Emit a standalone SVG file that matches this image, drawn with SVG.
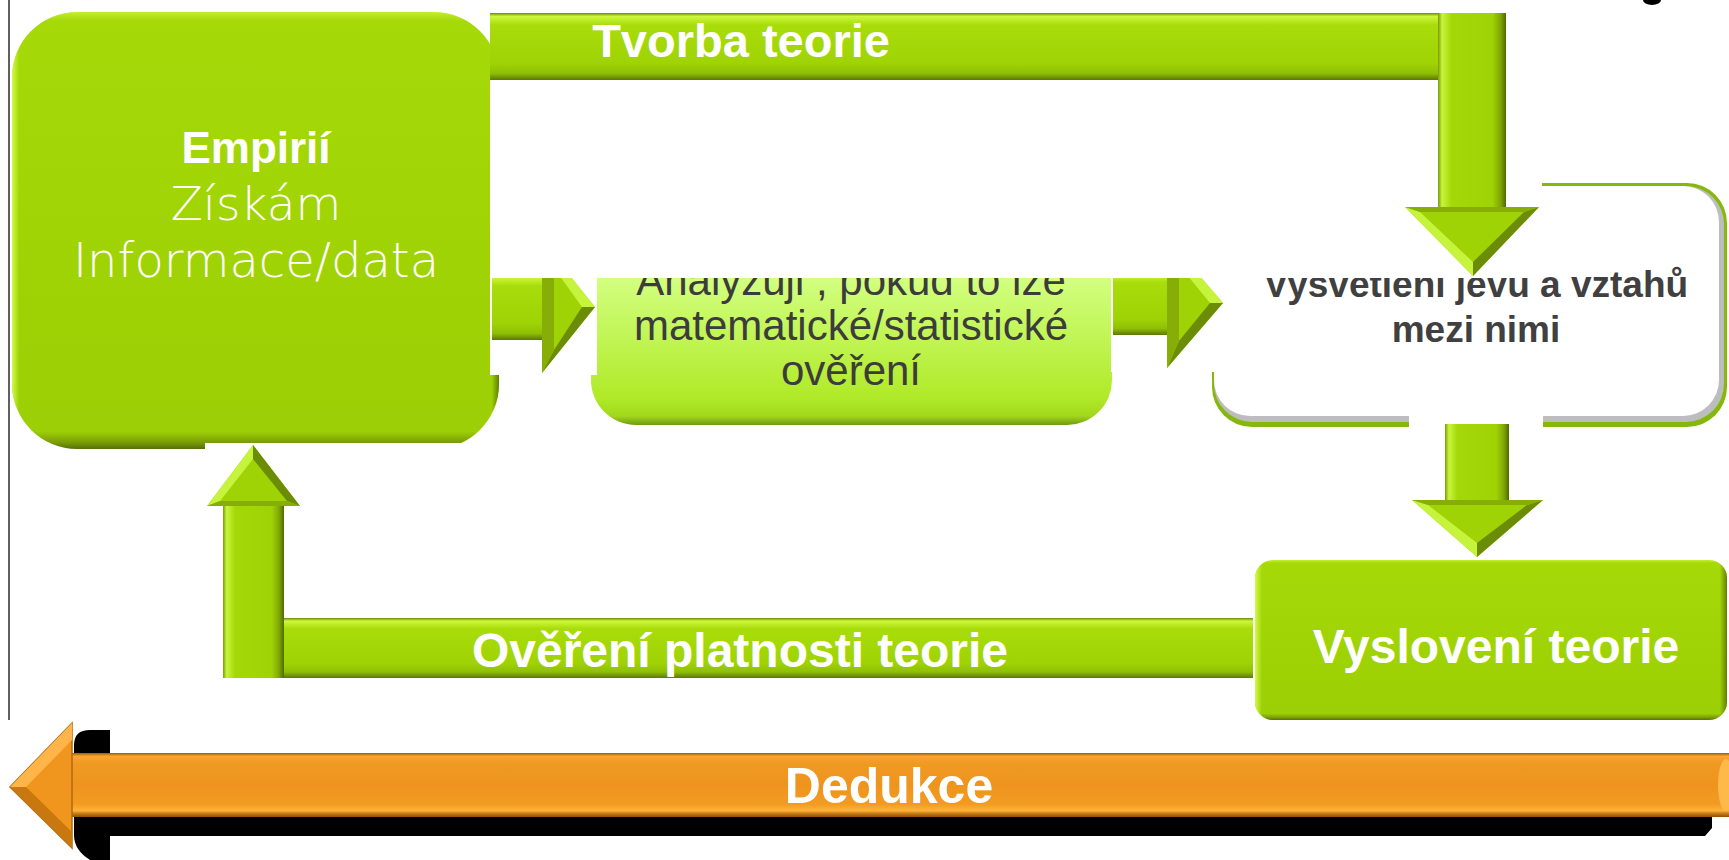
<svg xmlns="http://www.w3.org/2000/svg" width="1729" height="860" viewBox="0 0 1729 860">
<style>
.lbl{font-family:"Liberation Sans",Arial,sans-serif;font-weight:bold;fill:#ffffff;text-anchor:middle}
.thin{font-family:"DejaVu Sans","Liberation Sans",sans-serif;font-weight:200;fill:#ffffff;text-anchor:middle}
.dark{font-family:"Liberation Sans",Arial,sans-serif;fill:#3c3c3c;text-anchor:middle}
.darkb{font-family:"Liberation Sans",Arial,sans-serif;font-weight:bold;fill:#404040;text-anchor:middle}
.mask{fill:#ffffff}
.barH{fill:url(#gBarH)}
.barV{fill:url(#gBarV)}
.head{fill:#9fd305}
.fl{fill:#c6f43c}
.fd{fill:#6a8c06}
.fm{fill:#86ae06}
</style>
<defs>
<linearGradient id="gBarH" x1="0" y1="0" x2="0" y2="1">
<stop offset="0" stop-color="#6b8a06"/><stop offset="0.05" stop-color="#cdf83c"/><stop offset="0.18" stop-color="#a8dc0a"/><stop offset="0.75" stop-color="#9fd305"/><stop offset="0.9" stop-color="#8fbf05"/><stop offset="1" stop-color="#5b7804"/>
</linearGradient>
<linearGradient id="gBarV" x1="0" y1="0" x2="1" y2="0">
<stop offset="0" stop-color="#7a9a08"/><stop offset="0.06" stop-color="#c8f53a"/><stop offset="0.2" stop-color="#a4d808"/><stop offset="0.8" stop-color="#9fd305"/><stop offset="0.92" stop-color="#7fa605"/><stop offset="1" stop-color="#4f6a03"/>
</linearGradient>
<linearGradient id="gBox" x1="0" y1="0" x2="0" y2="1">
<stop offset="0" stop-color="#c2ee30"/><stop offset="0.02" stop-color="#a6d908"/><stop offset="0.5" stop-color="#a0d405"/><stop offset="0.96" stop-color="#9ccf05"/><stop offset="0.985" stop-color="#7a9c06"/><stop offset="1" stop-color="#55700a"/>
</linearGradient>
<linearGradient id="gBoxEdge" x1="0" y1="0" x2="1" y2="0">
<stop offset="0" stop-color="#d8ff50" stop-opacity="0.9"/><stop offset="0.015" stop-color="#d8ff50" stop-opacity="0"/><stop offset="0.985" stop-color="#4f6a03" stop-opacity="0"/><stop offset="1" stop-color="#4f6a03" stop-opacity="0.8"/>
</linearGradient>
<linearGradient id="gAnal" x1="0" y1="0" x2="0" y2="1">
<stop offset="0" stop-color="#e0ff9a"/><stop offset="0.35" stop-color="#d2ff80"/><stop offset="0.88" stop-color="#b0ea28"/><stop offset="0.96" stop-color="#a2d81c"/><stop offset="1" stop-color="#6e9a10"/>
</linearGradient>
<linearGradient id="gOr" x1="0" y1="0" x2="0" y2="1">
<stop offset="0" stop-color="#9a5a0c"/><stop offset="0.05" stop-color="#f9a534"/><stop offset="0.15" stop-color="#f09a22"/><stop offset="0.5" stop-color="#ee941e"/><stop offset="0.8" stop-color="#f29b22"/><stop offset="0.9" stop-color="#ffb238"/><stop offset="0.95" stop-color="#c27614"/><stop offset="1" stop-color="#8a520a"/>
</linearGradient>
<clipPath id="clipMid"><rect x="0" y="278" width="1729" height="200"/></clipPath>
</defs>

<line x1="9" y1="0" x2="9" y2="720" stroke="#606060" stroke-width="2"/>
<ellipse cx="1652" cy="0" rx="9" ry="5" fill="#000000"/>

<g id="empirii">
<rect x="12" y="12" width="487" height="437" rx="65" fill="url(#gBox)"/>
<rect x="12" y="12" width="487" height="437" rx="65" fill="url(#gBoxEdge)"/>
<text class="lbl" x="256" y="163" font-size="44">Empirií</text>
<text class="thin" x="256" y="220" font-size="47">Získám</text>
<text class="thin" x="256" y="277" font-size="48">Informace/data</text>
</g>

<g id="analyzuji">
<rect x="591" y="200" width="521" height="225" rx="45" fill="url(#gAnal)"/>
<text class="dark" x="851" y="295" font-size="42">Analyzuji , pokud to lze</text>
<text class="dark" x="851" y="340" font-size="42">matematické/statistické</text>
<text class="dark" x="851" y="385" font-size="42">ověření</text>
</g>

<g id="vysvetleni">
<rect x="1212" y="183" width="515" height="244" rx="40" fill="#86b80c"/>
<rect x="1214" y="186" width="510" height="236" rx="38" fill="#bdbdbd"/>
<rect x="1214" y="186" width="505" height="230" rx="36" fill="#ffffff"/>
<text class="darkb" x="1476" y="297" font-size="37">Vysvětlení jevu a vztahů</text>
<text class="darkb" x="1476" y="342" font-size="37">mezi nimi</text>
</g>

<g id="masks">
<rect class="mask" x="490" y="80" width="1052" height="198"/>
<rect class="mask" x="490" y="278" width="107" height="97"/>
<rect class="mask" x="1111" y="278" width="129" height="94"/>
<rect class="mask" x="1409" y="413" width="134" height="19"/>
<rect class="mask" x="205" y="443" width="300" height="8"/>
</g>

<g id="vysloveni">
<rect x="1255" y="560" width="472" height="160" rx="18" fill="url(#gBox)"/>
<rect x="1255" y="560" width="472" height="160" rx="18" fill="url(#gBoxEdge)"/>
<text class="lbl" x="1496" y="663" font-size="48">Vyslovení teorie</text>
</g>

<g id="connectors">
<g id="tvorba">
<rect class="barH" x="490" y="13" width="1016" height="67"/>
<rect class="barV" x="1438" y="13" width="68" height="196"/>
<polygon class="head" points="1405,207 1539,207 1473,276"/>
<polygon class="fl" points="1405,207 1473,276 1473,262 1420,212"/>
<polygon class="fd" points="1539,207 1473,276 1473,262 1524,212"/>
<polygon class="fm" points="1405,207 1539,207 1524,212 1420,212"/>
<text class="lbl" x="741" y="57" font-size="47">Tvorba teorie</text>
</g>
<g id="arrow-empirii-analyzuji" clip-path="url(#clipMid)">
<rect class="barH" x="492" y="274" width="52" height="66"/>
<polygon class="head" points="542,241 595,307 542,373"/>
<polygon class="fl" points="542,241 595,307 582,307 554,268"/>
<polygon class="fd" points="542,373 595,307 582,307 554,350"/>
<polygon class="fm" points="542,241 542,373 554,350 554,268"/>
</g>
<g id="arrow-analyzuji-vysvetleni" clip-path="url(#clipMid)">
<rect class="barH" x="1113" y="271" width="56" height="64"/>
<polygon class="head" points="1167,238 1223,303 1167,368"/>
<polygon class="fl" points="1167,238 1223,303 1210,303 1179,265"/>
<polygon class="fd" points="1167,368 1223,303 1210,303 1179,341"/>
<polygon class="fm" points="1167,238 1167,368 1179,341 1179,265"/>
</g>
<g id="arrow-vysvetleni-vysloveni">
<rect class="barV" x="1445" y="424" width="64" height="78"/>
<polygon class="head" points="1412,500 1543,500 1477,557"/>
<polygon class="fl" points="1412,500 1477,557 1477,543 1428,505"/>
<polygon class="fd" points="1543,500 1477,557 1477,543 1527,505"/>
<polygon class="fm" points="1412,500 1543,500 1527,505 1428,505"/>
</g>
<g id="overeni">
<rect class="barH" x="223" y="618" width="1030" height="60"/>
<rect class="barV" x="223" y="504" width="61" height="174"/>
<polygon class="head" points="207,506 300,506 253,445"/>
<polygon class="fl" points="207,506 253,445 253,459 220,501"/>
<polygon class="fd" points="300,506 253,445 253,459 287,501"/>
<polygon class="fm" points="207,506 300,506 287,501 220,501"/>
<text class="lbl" x="740" y="667" font-size="48">Ověření platnosti teorie</text>
</g>
</g>

<g id="dedukce">
<path d="M74,745 Q74,730 90,730 L110,730 L110,770 L1712,770 L1712,828 L1705,836 L110,836 L110,860 L90,860 Q74,850 74,835 Z" fill="#000000"/>
<rect x="70" y="753" width="1659" height="64" fill="url(#gOr)"/>
<polygon points="10,787 72,723 72,848" fill="#f0961e" stroke="#b06a10" stroke-width="1.5"/>
<polygon points="10,787 72,723 72,740 26,787" fill="#ffb54a"/>
<polygon points="10,787 72,848 72,832 26,787" fill="#c8780f"/>
<ellipse cx="1726" cy="785" rx="8" ry="26" fill="#ffb84a"/>
<text class="lbl" x="889" y="803" font-size="50">Dedukce</text>
</g>
</svg>
